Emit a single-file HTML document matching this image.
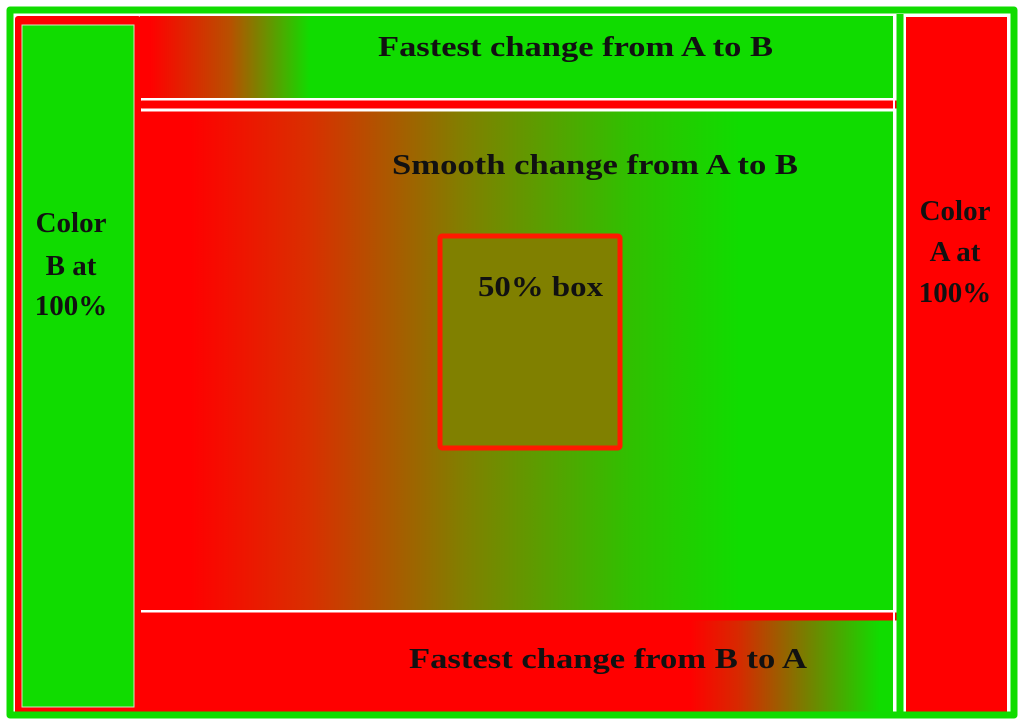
<!DOCTYPE html>
<html><head><meta charset="utf-8"><style>
html,body{margin:0;padding:0;background:#fff;width:1024px;height:726px;overflow:hidden}
text{font-family:"Liberation Serif",serif;font-weight:bold;fill:#111}
</style></head><body>
<svg width="1024" height="726" viewBox="0 0 1024 726">
<defs>
<linearGradient id="gTop" gradientUnits="userSpaceOnUse" x1="150" x2="310"><stop offset="0" stop-color="#ff0000"/><stop offset="0.5" stop-color="#b85000"/><stop offset="1" stop-color="#10dc00"/></linearGradient>
<linearGradient id="gMid" gradientUnits="userSpaceOnUse" x1="190" x2="740"><stop offset="0" stop-color="#ff0000"/><stop offset="0.22" stop-color="#d83000"/><stop offset="0.5" stop-color="#808000"/><stop offset="0.8" stop-color="#30c000"/><stop offset="1" stop-color="#10dc00"/></linearGradient>
<linearGradient id="gBot" gradientUnits="userSpaceOnUse" x1="690" x2="880"><stop offset="0" stop-color="#ff0000"/><stop offset="0.25" stop-color="#d82800"/><stop offset="1" stop-color="#10dc00"/></linearGradient>
</defs>
<rect x="0" y="0" width="1024" height="726" fill="#fff"/>
<rect x="140" y="16" width="755" height="82" fill="url(#gTop)"/>
<rect x="140" y="111" width="753" height="499" fill="url(#gMid)"/>
<rect x="140" y="620" width="753" height="93" fill="url(#gBot)"/>
<line x1="140" y1="99" x2="895" y2="99" stroke="#fff" stroke-width="2"/>
<line x1="140" y1="110.5" x2="893" y2="110.5" stroke="#fff" stroke-width="2"/>
<line x1="142" y1="104.5" x2="898" y2="104.5" stroke="#ff0000" stroke-width="8" stroke-linecap="round"/>
<line x1="140" y1="611" x2="893" y2="611" stroke="#fff" stroke-width="2"/>
<line x1="140" y1="616.5" x2="896" y2="616.5" stroke="#ff0000" stroke-width="8" stroke-linecap="round"/>
<line x1="894" y1="16" x2="894" y2="714" stroke="#fff" stroke-width="2"/>
<line x1="900" y1="14" x2="900" y2="714" stroke="#10dc00" stroke-width="7"/>
<rect x="905" y="16" width="103" height="697" fill="#ff0000" stroke="#fff" stroke-width="2"/>
<rect x="18" y="19" width="120" height="693" fill="#ff0000" stroke="#ff0000" stroke-width="6" stroke-linejoin="round"/>
<rect x="22" y="25" width="112" height="682" fill="#10dc00" stroke="#cce8c0" stroke-width="1"/>
<rect x="10" y="10" width="1004" height="705" fill="none" stroke="#10dc00" stroke-width="7" stroke-linejoin="round"/>
<rect x="440" y="236" width="180" height="212" fill="#808000" stroke="#ff1a00" stroke-width="5" rx="2"/>
<text x="378" y="56" font-size="28" textLength="395" lengthAdjust="spacingAndGlyphs">Fastest change from A to B</text>
<text x="392" y="174" font-size="28" textLength="406" lengthAdjust="spacingAndGlyphs">Smooth change from A to B</text>
<text x="478" y="296" font-size="28" textLength="125" lengthAdjust="spacingAndGlyphs">50% box</text>
<text x="409" y="668" font-size="28" textLength="398" lengthAdjust="spacingAndGlyphs">Fastest change from B to A</text>
<g font-size="29">
<text x="71" y="232" text-anchor="middle">Color</text>
<text x="71" y="275" text-anchor="middle">B at</text>
<text x="71" y="315" text-anchor="middle">100%</text>
</g>
<g font-size="29">
<text x="955" y="220" text-anchor="middle">Color</text>
<text x="955" y="261" text-anchor="middle">A at</text>
<text x="955" y="302" text-anchor="middle">100%</text>
</g>
</svg>
</body></html>
